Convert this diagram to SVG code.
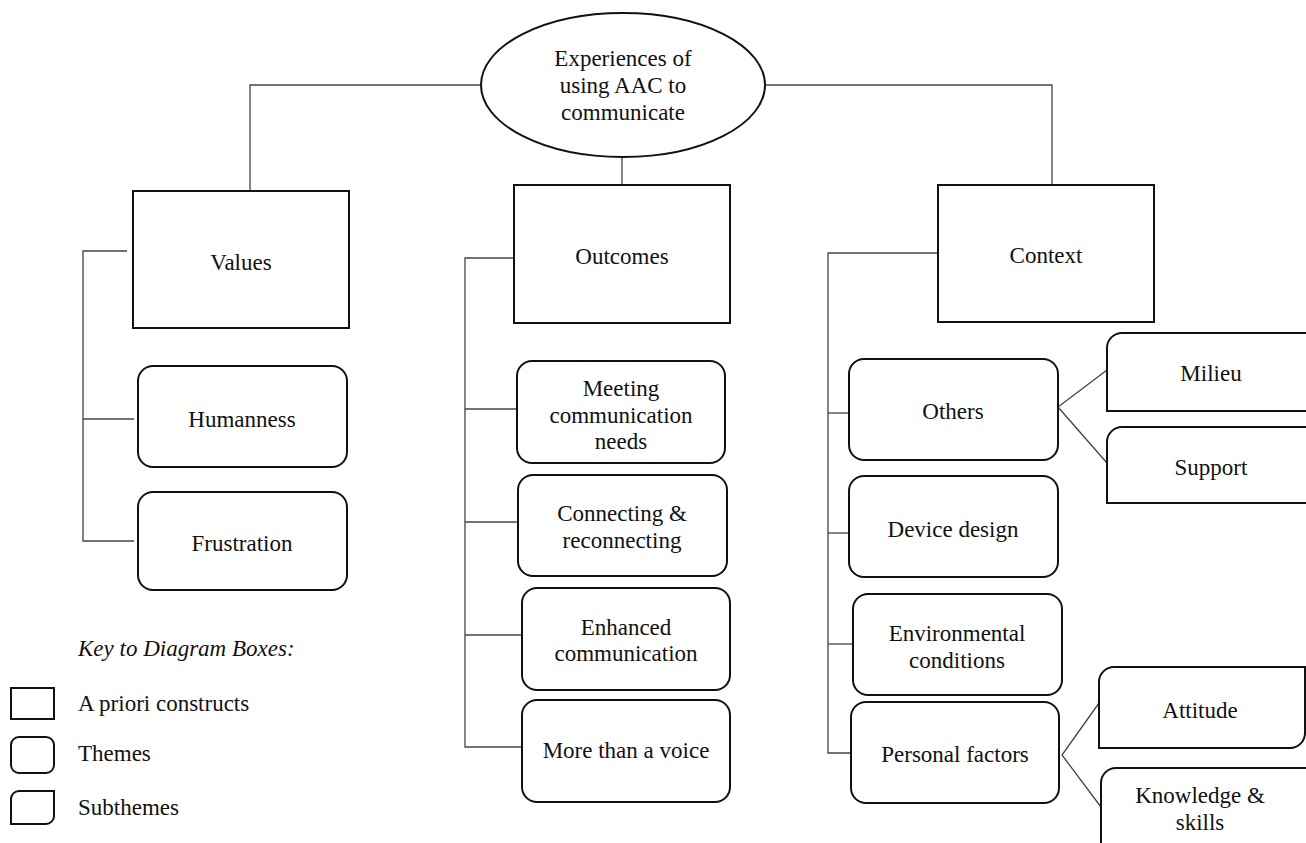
<svg xmlns="http://www.w3.org/2000/svg" width="1306" height="843" viewBox="0 0 1306 843">
<style>
.box{fill:#fff;stroke:#111;stroke-width:2}
.sub{fill:#fff;stroke:#111;stroke-width:2}
.con{fill:none;stroke:#444;stroke-width:1.3}
text{font-family:"Liberation Serif","Times New Roman",serif;font-size:23px;fill:#111;text-anchor:middle;dominant-baseline:central}
.key{text-anchor:start}
</style>
<rect width="1306" height="843" fill="#fff"/>
<g id="connectors">
<polyline class="con" points="481,85 250,85 250,191"/>
<polyline class="con" points="766,85 1052,85 1052,185"/>
<line class="con" x1="622" y1="157" x2="622" y2="185"/>
<polyline class="con" points="127,251 83,251 83,541 134,541"/>
<line class="con" x1="83" y1="419" x2="134" y2="419"/>
<polyline class="con" points="513,258 465,258 465,747 522,747"/>
<line class="con" x1="465" y1="409" x2="517" y2="409"/>
<line class="con" x1="465" y1="522" x2="518" y2="522"/>
<line class="con" x1="465" y1="635" x2="522" y2="635"/>
<polyline class="con" points="938,253 828,253 828,753 851,753"/>
<line class="con" x1="828" y1="413" x2="849" y2="413"/>
<line class="con" x1="828" y1="533" x2="849" y2="533"/>
<line class="con" x1="828" y1="644" x2="853" y2="644"/>
<polyline class="con" points="1107,370 1058,407 1107,463"/>
<polyline class="con" points="1099,703 1062,755 1101,807"/>
</g>
<g id="root">
<ellipse class="box" cx="623" cy="85" rx="142" ry="72"/>
<text x="623" y="58">Experiences of</text>
<text x="623" y="85">using AAC to</text>
<text x="623" y="112">communicate</text>
</g>
<g id="values">
<rect class="box" x="133" y="191" width="216" height="137"/>
<text x="241" y="262">Values</text>
</g>
<g id="outcomes">
<rect class="box" x="514" y="185" width="216" height="138"/>
<text x="622" y="256">Outcomes</text>
</g>
<g id="context">
<rect class="box" x="938" y="185" width="216" height="137"/>
<text x="1046" y="255">Context</text>
</g>
<g id="humanness">
<rect class="box" x="138" y="366" width="209" height="101" rx="15"/>
<text x="242" y="419">Humanness</text>
</g>
<g id="frustration">
<rect class="box" x="138" y="492" width="209" height="98" rx="15"/>
<text x="242" y="543">Frustration</text>
</g>
<g id="meeting">
<rect class="box" x="517" y="361" width="208" height="102" rx="15"/>
<text x="621" y="388">Meeting</text>
<text x="621" y="415">communication</text>
<text x="621" y="441">needs</text>
</g>
<g id="connecting">
<rect class="box" x="518" y="475" width="209" height="101" rx="15"/>
<text x="622" y="513">Connecting &amp;</text>
<text x="622" y="540">reconnecting</text>
</g>
<g id="enhanced">
<rect class="box" x="522" y="588" width="208" height="102" rx="15"/>
<text x="626" y="627">Enhanced</text>
<text x="626" y="653">communication</text>
</g>
<g id="morevoice">
<rect class="box" x="522" y="700" width="208" height="102" rx="15"/>
<text x="626" y="750">More than a voice</text>
</g>
<g id="others">
<rect class="box" x="849" y="359" width="209" height="101" rx="15"/>
<text x="953" y="411">Others</text>
</g>
<g id="device">
<rect class="box" x="849" y="476" width="209" height="101" rx="15"/>
<text x="953" y="529">Device design</text>
</g>
<g id="environmental">
<rect class="box" x="853" y="594" width="209" height="101" rx="15"/>
<text x="957" y="633">Environmental</text>
<text x="957" y="660">conditions</text>
</g>
<g id="personal">
<rect class="box" x="851" y="702" width="208" height="101" rx="15"/>
<text x="955" y="754">Personal factors</text>
</g>
<g id="milieu">
<path class="sub" d="M1320,333 L1122,333 A15,15 0 0 0 1107,348 L1107,411 L1320,411"/>
<text x="1211" y="373">Milieu</text>
</g>
<g id="support">
<path class="sub" d="M1320,427 L1122,427 A15,15 0 0 0 1107,442 L1107,503 L1320,503"/>
<text x="1211" y="467">Support</text>
</g>
<g id="attitude">
<path class="sub" d="M1099,682 A15,15 0 0 1 1114,667 L1305,667 L1305,733 A15,15 0 0 1 1290,748 L1099,748 Z"/>
<text x="1200" y="710">Attitude</text>
</g>
<g id="knowledge">
<path class="sub" d="M1101,860 L1101,783 A15,15 0 0 1 1116,768 L1320,768"/>
<text x="1200" y="795">Knowledge &amp;</text>
<text x="1200" y="822">skills</text>
</g>
<g id="key">
<text class="key" x="78" y="648" font-style="italic">Key to Diagram Boxes:</text>
<rect class="box" x="11" y="688" width="43" height="31"/>
<text class="key" x="78" y="703">A priori constructs</text>
<rect class="box" x="11" y="737" width="43" height="36" rx="8"/>
<text class="key" x="78" y="753">Themes</text>
<path class="sub" d="M11,799 A8,8 0 0 1 19,791 L54,791 L54,816 A8,8 0 0 1 46,824 L11,824 Z"/>
<text class="key" x="78" y="807">Subthemes</text>
</g>
</svg>
